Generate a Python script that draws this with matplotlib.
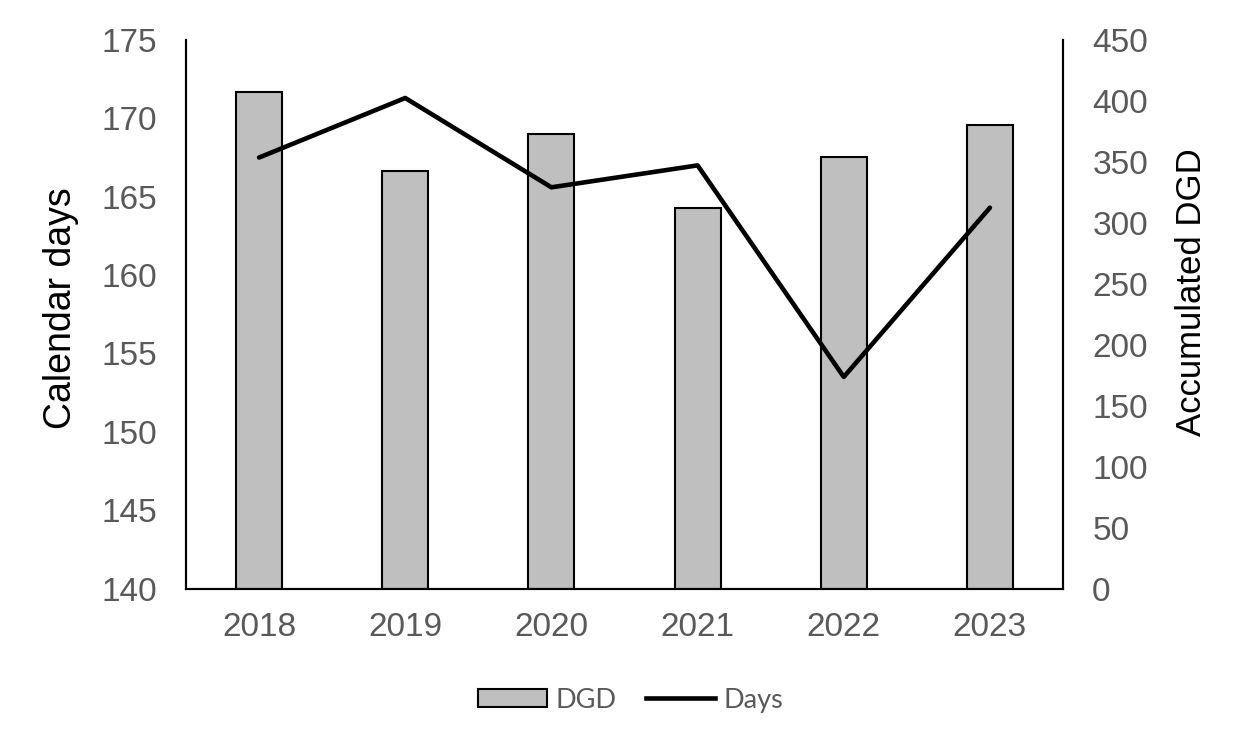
import matplotlib.pyplot as plt
from matplotlib.patches import Patch
from matplotlib.lines import Line2D

# values
years = ['2018', '2019', '2020', '2021', '2022', '2023']
dgd = [407.6, 342.5, 372.6, 312.4, 354.0, 380.3]
days = [167.5, 171.3, 165.6, 167.0, 153.5, 164.3]

plt.rcParams['font.family'] = ['Liberation Sans', 'DejaVu Sans']

fig = plt.figure(figsize=(12.49, 7.52), dpi=100)
ax = fig.add_axes([0.1489, 0.2174, 0.7022, 0.7294])  # line, left scale
ax2 = ax.twinx()                                       # bars, right scale

x = range(len(years))
ax2.bar(x, dgd, width=0.315, color='#bfbfbf', edgecolor='black', linewidth=1.5)
ax.plot(x, days, color='black', linewidth=3.3, solid_capstyle='round')

# keep the line above the bars
ax.set_zorder(ax2.zorder + 1)
ax.patch.set_visible(False)

ax.set_xlim(-0.5, 5.5)
ax.set_ylim(140, 175)
ax.set_yticks(range(140, 176, 5))
ax2.set_ylim(0, 450)
ax2.set_yticks(range(0, 451, 50))
ax.set_xticks(list(x))
ax.set_xticklabels(years)

grey = '#595959'
for a in (ax, ax2):
    a.spines['top'].set_visible(False)
    for s in ('left', 'right', 'bottom'):
        a.spines[s].set_linewidth(1.5)
        a.spines[s].set_color('black')
ax.tick_params(axis='y', length=0, pad=21, labelsize=24, labelcolor=grey)
ax.tick_params(axis='x', length=0, pad=17, labelsize=24, labelcolor=grey)
ax2.tick_params(axis='y', length=0, pad=21, labelsize=24, labelcolor=grey)

ax.set_ylabel('Calendar days', fontsize=27, color='black')
ax.yaxis.set_label_coords(-0.122, 0.511)
ax2.set_ylabel('Accumulated DGD', fontsize=25, color='black')
ax2.yaxis.set_label_coords(1.128, 0.54)

handles = [Patch(facecolor='#bfbfbf', edgecolor='black', linewidth=1.5, label='DGD'),
           Line2D([], [], color='black', linewidth=3.3, label='Days')]
fig.legend(handles=handles, loc='center', bbox_to_anchor=(0.505, 0.069), ncol=2,
           frameon=False, prop={'family': 'Lato', 'size': 19.5}, labelcolor=grey,
           handlelength=2.55, handleheight=0.65, handletextpad=0.3, columnspacing=1.1)

fig.savefig('out.png', dpi=100)
